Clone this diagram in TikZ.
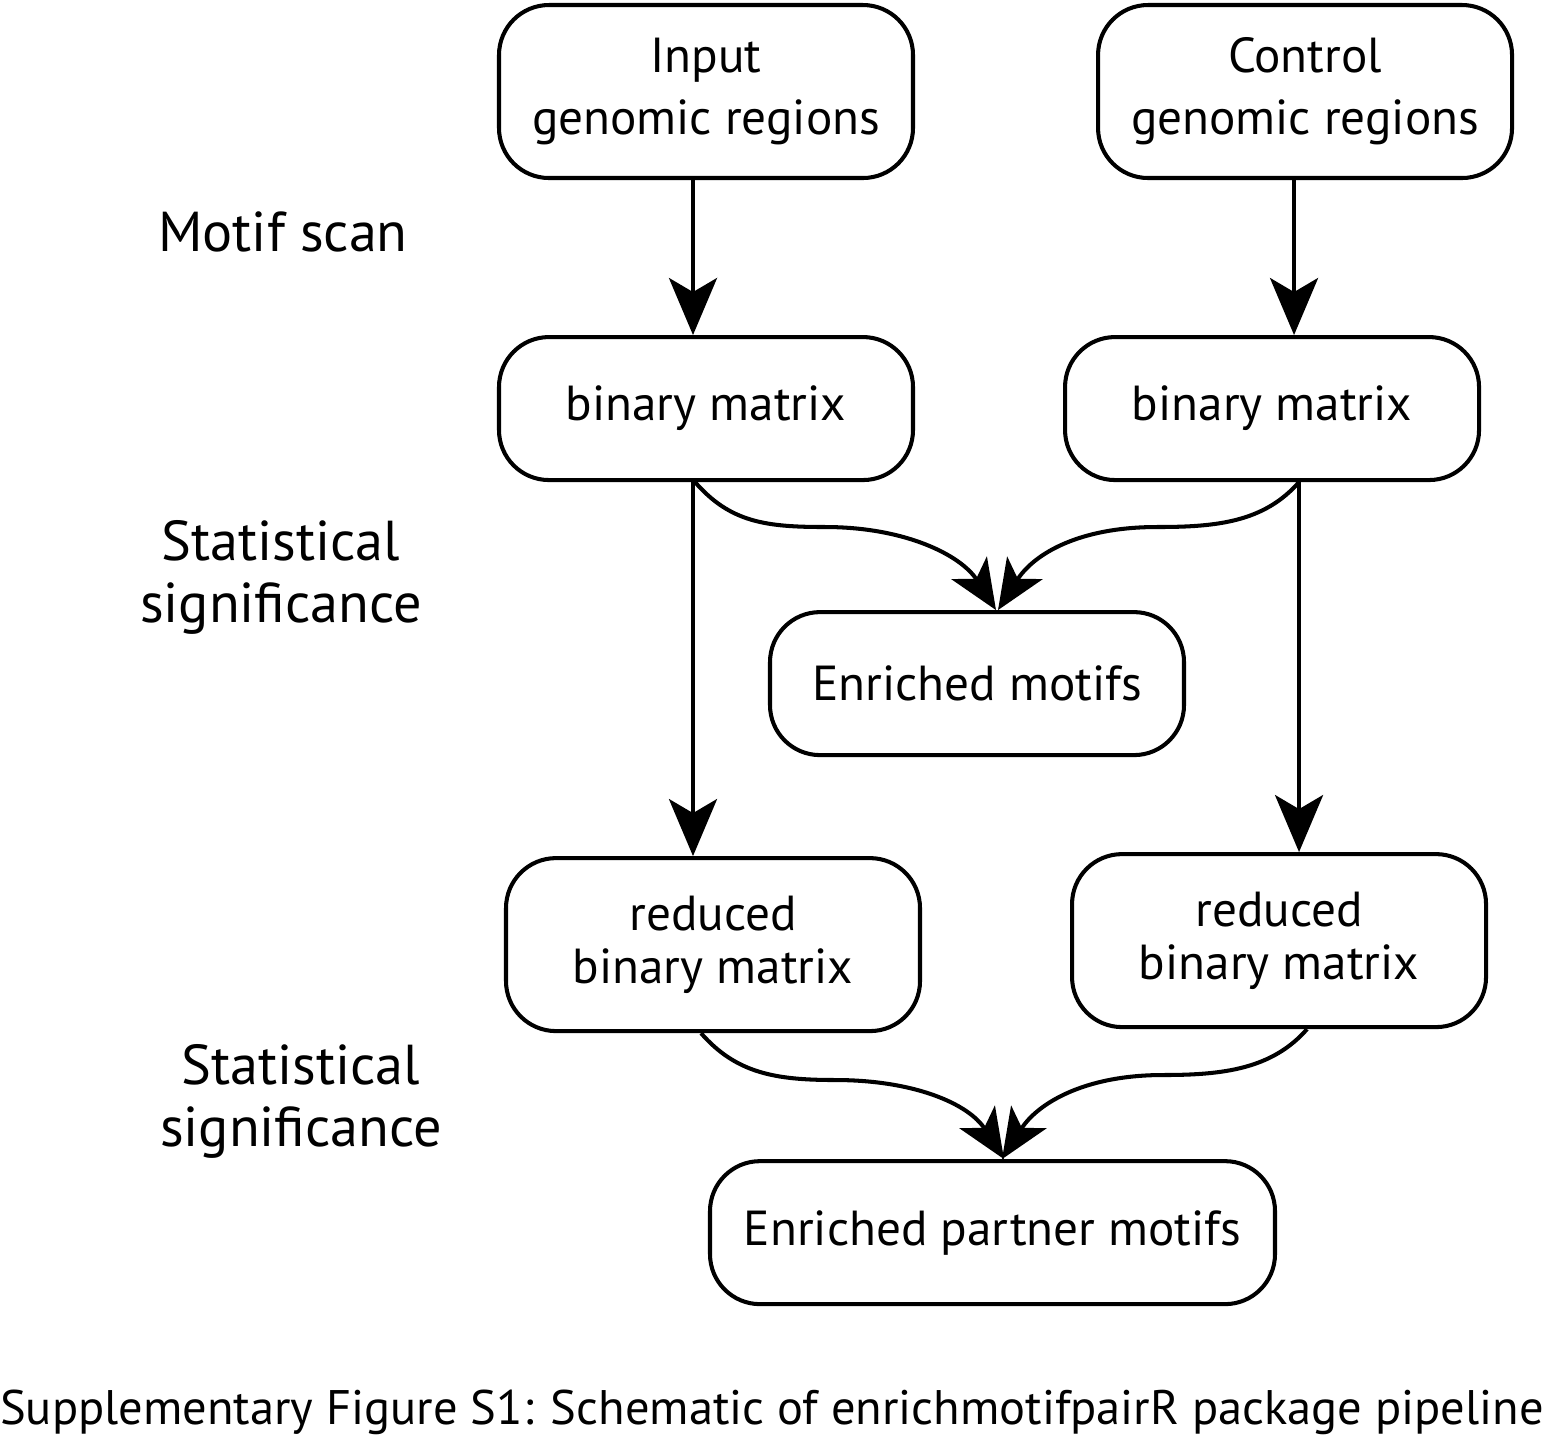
\documentclass[tikz,border=0pt]{standalone}
\usepackage{fontspec}
\setmainfont{PT Sans}
\usetikzlibrary{arrows.meta,positioning}

\begin{document}
\begin{tikzpicture}[
  box/.style={draw, rounded corners=0.5cm, minimum width=4.14cm, minimum height=1.43cm,
              align=center, line width=1.15pt, font=\fontsize{14}{17.6}\selectfont},
  tall/.style={minimum height=1.73cm},
  tight/.style={font=\fontsize{14}{15.2}\selectfont},
  flow/.style={-{Stealth[length=0.57cm, width=0.48cm, inset=0.14cm]}, line width=1.15pt},
  merge/.style={-{Stealth[length=0.5cm, width=0.42cm, inset=0.13cm]}, line width=1.15pt},
  stage/.style={font=\fontsize{16}{17.6}\selectfont, align=center}
]
  \useasboundingbox (0,0) rectangle (15.44,-14.42);

  % Input and control regions
  \node[box, tall] (inp) at (7.06,-0.915) {Input\\genomic regions};
  \node[box, tall, right=1.81cm of inp] (ctrl) {Control\\genomic regions};

  % Binary matrices
  \node[box, below=1.55cm of inp] (bmL) {binary matrix};
  \node[box, below=1.55cm of ctrl, xshift=-0.33cm] (bmR) {binary matrix};

  % Enriched motifs
  \node[box, below=1.28cm of bmL, xshift=2.71cm] (motifs) {Enriched motifs};

  % Reduced binary matrices
  \node[box, tall, tight, below=3.74cm of bmL, xshift=0.07cm] (redL) {reduced\\binary matrix};
  \node[box, tall, tight, below=3.70cm of bmR, xshift=0.07cm] (redR) {reduced\\binary matrix};

  % Enriched partner motifs
  \node[box, minimum width=5.65cm, below=1.26cm of redL, xshift=2.795cm] (partner) {Enriched partner motifs};

  % Stage labels
  \node[stage] (scan) at (2.83,-2.32) {Motif scan};
  \node[stage] (stat1) at (2.81,-5.77) {Statistical\\significance};
  \node[stage] (stat2) at (3.01,-11.01) {Statistical\\significance};

  % Arrows
  \draw[flow] ([xshift=-1.3mm]inp.south) -- ([xshift=-1.3mm]inp.south |- bmL.north);
  \draw[flow] ([xshift=-1.1mm]ctrl.south) -- ([xshift=-1.1mm]ctrl.south |- bmR.north);
  \draw[flow] ([xshift=-1.3mm]bmL.south) -- ([xshift=-1.3mm]bmL.south |- redL.north);
  \draw[flow] ([xshift=2.7mm]bmR.south) -- ([xshift=2.7mm]bmR.south |- redR.north);

  % Curved arrows into the enriched boxes
  \coordinate (kL1) at (8.25,-5.27);
  \coordinate (kR1) at (11.57,-5.27);
  \coordinate (kL2) at (8.35,-10.80);
  \coordinate (kR2) at (11.63,-10.75);
  \draw[merge] ([xshift=-1.1mm]bmL.south) .. controls +(0.35,-0.40) and +(-0.6,0) .. (kL1)
    .. controls +(0.8,0) and +(-0.35,0.55) .. ([xshift=1.9mm]motifs.north);
  \draw[merge] ([xshift=2.7mm]bmR.south) .. controls +(-0.35,-0.40) and +(0.6,0) .. (kR1)
    .. controls +(-0.8,0) and +(0.35,0.55) .. ([xshift=2.1mm]motifs.north);
  \draw[merge] ([xshift=-1.2mm]redL.south) .. controls +(0.35,-0.40) and +(-0.6,0) .. (kL2)
    .. controls +(0.8,0) and +(-0.35,0.55) .. ([xshift=1.15mm]partner.north);
  \draw[merge] ([xshift=2.8mm]redR.south) .. controls +(-0.35,-0.40) and +(0.6,0) .. (kR2)
    .. controls +(-0.8,0) and +(0.35,0.55) .. ([xshift=0.95mm]partner.north);

  % Caption
  \node[font=\fontsize{13.8}{16}\selectfont] (caption) at (7.72,-14.12) {Supplementary Figure S1: Schematic of enrichmotifpairR package pipeline};

\end{tikzpicture}
\end{document}
